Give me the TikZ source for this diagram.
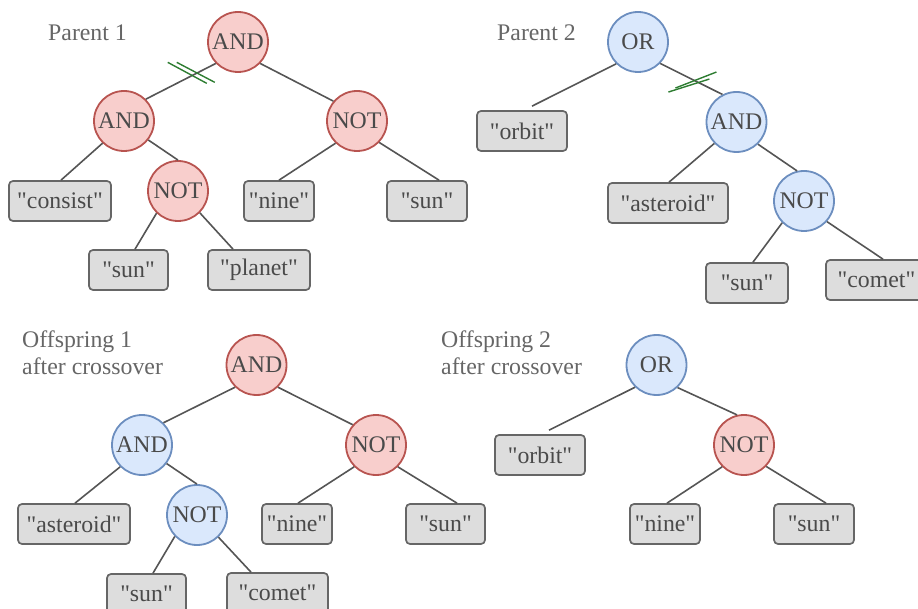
\documentclass[tikz,border=0pt]{standalone}
\usepackage{fontspec}
\setmainfont{Liberation Serif}[Ligatures=TeXOff]
\usetikzlibrary{calc}
\definecolor{redfill}{HTML}{F8CECC}
\definecolor{redline}{HTML}{B85450}
\definecolor{bluefill}{HTML}{DAE8FC}
\definecolor{blueline}{HTML}{6C8EBF}
\definecolor{boxfill}{HTML}{DDDDDD}
\definecolor{boxline}{HTML}{666666}
\definecolor{txtc}{HTML}{4A4A4A}
\definecolor{lblc}{HTML}{666666}
\definecolor{edgec}{HTML}{555555}
\definecolor{hashc}{HTML}{2E7D32}
\begin{document}
\begin{tikzpicture}[x=1pt,y=-1pt,
  font=\fontsize{23.8}{27}\selectfont,
  opred/.style={circle,draw=redline,fill=redfill,line width=1.8pt,minimum size=60pt,inner sep=0pt,text=txtc},
  opblue/.style={circle,draw=blueline,fill=bluefill,line width=1.8pt,minimum size=60pt,inner sep=0pt,text=txtc},
  term/.style={rectangle,rounded corners=4pt,draw=boxline,fill=boxfill,line width=1.7pt,minimum height=40pt,inner sep=0pt,text=txtc},
  link/.style={draw=edgec,line width=1.6pt},
  hash/.style={draw=hashc,line width=1.4pt},
  lbl/.style={text=lblc,inner sep=0pt}]
\useasboundingbox (0,0) rectangle (918,609);
\clip (0,0) rectangle (918,609);

% ---------- Parent 1 ----------
\node[lbl,anchor=base west] (lp1) at (48,41) {Parent 1};
\node[opred] (p1root) at (238,42) {AND};
\node[opred] (p1andl) at (124,121) {AND};
\node[opred] (p1notr) at (357,121) {NOT};
\node[opred] (p1notm) at (178,191) {NOT};
\node[term,minimum width=102pt] (p1consist) at (60,201) {"consist"};
\node[term,minimum width=70pt] (p1nine) at (279,201) {"nine"};
\node[term,minimum width=80pt] (p1sun) at (427,201) {"sun"};
\node[term,minimum width=79pt] (p1sunb) at (128.5,270) {"sun"};
\node[term,minimum width=102pt] (p1planet) at (259,270) {"planet"};
\draw[link] (p1root.224) -- (p1andl.45) coordinate[pos=0.3] (p1cut);
\draw[link] (p1root.316) -- (p1notr.140);
\draw[link] (p1andl.226) -- ([xshift=1pt]p1consist.north);
\draw[link] (p1andl.322) -- (p1notm.90);
\draw[link] (p1notm.226) -- ([xshift=6.5pt]p1sunb.north);
\draw[link] (p1notm.315) -- ([xshift=-26pt]p1planet.north);
\draw[link] (p1notr.226) -- (p1nine.north);
\draw[link] (p1notr.316) -- ([xshift=12pt]p1sun.north);
\draw[hash] ($(p1cut)+(-27,-11.8)$) -- ($(p1cut)+(12,9.2)$);
\draw[hash] ($(p1cut)+(-18,-11.8)$) -- ($(p1cut)+(20,8.2)$);

% ---------- Parent 2 ----------
\node[lbl,anchor=base west] (lp2) at (497,41) {Parent 2};
\node[opblue] (p2root) at (638,42) {OR};
\node[opblue] (p2and) at (736.5,122) {AND};
\node[opblue] (p2not) at (804,201) {NOT};
\node[term,minimum width=90pt] (p2orbit) at (522,131) {"orbit"};
\node[term,minimum width=120pt] (p2ast) at (668,203) {"asteroid"};
\node[term,minimum width=82pt] (p2sun) at (747,283) {"sun"};
\node[term,minimum width=101pt] (p2comet) at (876.5,280) {"comet"};
\draw[link] (p2root.225) -- ([xshift=10pt,yshift=4pt]p2orbit.north);
\draw[link] (p2root.316) -- (p2and.117) coordinate[pos=0.57] (p2cut);
\draw[link] (p2and.224) -- ([xshift=1pt]p2ast.north);
\draw[link] (p2and.314) -- (p2not.103);
\draw[link] (p2not.225) -- ([xshift=6pt]p2sun.north);
\draw[link] (p2not.318) -- ([xshift=6.5pt]p2comet.north);
\draw[hash] ($(p2cut)+(-27.3,10.9)$) -- ($(p2cut)+(13.7,-2.1)$);
\draw[hash] ($(p2cut)+(-20.3,6.9)$) -- ($(p2cut)+(20.7,-9.1)$);

% ---------- Offspring 1 ----------
\node[lbl,anchor=north west,align=left] (lo1) at (22,331) {Offspring 1\\after crossover};
\node[opred] (o1root) at (256.5,365) {AND};
\node[opblue] (o1andl) at (142,445) {AND};
\node[opred] (o1notr) at (376,445) {NOT};
\node[opblue] (o1notm) at (197,515) {NOT};
\node[term,minimum width=112pt] (o1ast) at (74,524) {"asteroid"};
\node[term,minimum width=70pt] (o1nine) at (297,524) {"nine"};
\node[term,minimum width=79pt] (o1sun) at (445.5,524) {"sun"};
\node[term,minimum width=79pt] (o1sunb) at (146.5,594) {"sun"};
\node[term,minimum width=101pt] (o1comet) at (277.5,593) {"comet"};
\draw[link] (o1root.226) -- (o1andl.46);
\draw[link] (o1root.314) -- (o1notr.139);
\draw[link] (o1andl.225) -- ([xshift=1pt]o1ast.north);
\draw[link] (o1andl.323) -- (o1notm.90);
\draw[link] (o1notm.224) -- ([xshift=6.5pt]o1sunb.north);
\draw[link] (o1notm.314) -- ([xshift=-26.5pt]o1comet.north);
\draw[link] (o1notr.225) -- ([xshift=1pt]o1nine.north);
\draw[link] (o1notr.315) -- ([xshift=11.5pt]o1sun.north);

% ---------- Offspring 2 ----------
\node[lbl,anchor=north west,align=left] (lo2) at (441,331) {Offspring 2\\after crossover};
\node[opblue] (o2root) at (656.5,365) {OR};
\node[opred] (o2not) at (744,445) {NOT};
\node[term,minimum width=90pt] (o2orbit) at (540,455) {"orbit"};
\node[term,minimum width=70pt] (o2nine) at (665,524) {"nine"};
\node[term,minimum width=80pt] (o2sun) at (814,524) {"sun"};
\draw[link] (o2root.226) -- ([xshift=9pt,yshift=4pt]o2orbit.north);
\draw[link] (o2root.313) -- (o2not.103);
\draw[link] (o2not.225) -- ([xshift=2pt]o2nine.north);
\draw[link] (o2not.316) -- ([xshift=12pt]o2sun.north);
\end{tikzpicture}
\end{document}
